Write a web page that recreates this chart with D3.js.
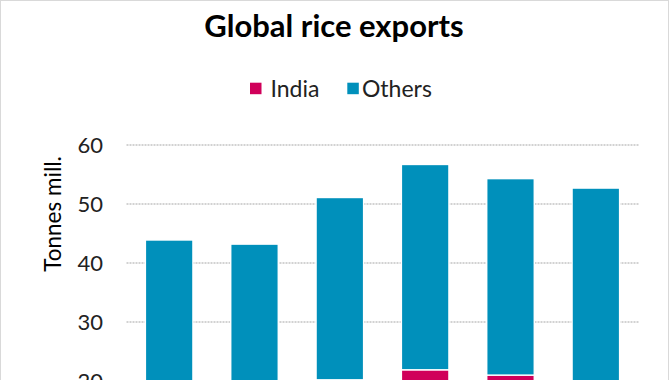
<!DOCTYPE html>
<html>
<head>
<meta charset="utf-8">
<script src="https://cdn.jsdelivr.net/npm/d3@7"></script>
<style>
  html, body { margin: 0; padding: 0; background: #fff; overflow: hidden; }
  svg { display: block; font-family: Lato, "Open Sans", sans-serif; }
</style>
</head>
<body>
<svg id="chart" width="670" height="380"></svg>
<script>
// ---- data ----
const categories = ["2018", "2019", "2020", "2021", "2022", "2023"];
const india  = [11.5, 14.5, 20.2, 21.9, 21.0, 16.5];
const others = [32.4, 28.7, 30.9, 34.8, 33.3, 36.2];
const seriesNames = ["India", "Others"];
const yTicks = [0, 10, 20, 30, 40, 50, 60];
const titleText = "Global rice exports";
const yTitleText = "Tonnes mill.";

const colors = { India: "#d0005a", Others: "#0090bb" };

const svg = d3.select("#chart");

// chart border
svg.append("rect")
  .attr("x", 0.5).attr("y", 0.5)
  .attr("width", 668).attr("height", 420)
  .attr("fill", "none").attr("stroke", "#d9d9d9").attr("stroke-width", 1);

const x = d3.scaleBand()
  .domain(categories)
  .range([126.5, 638.5])
  .paddingInner(0.443)
  .paddingOuter(0.2215);

const y = d3.scaleLinear().domain([0, 60]).range([499, 145]);

// gridlines
const grid = svg.append("g");
grid.selectAll("line").data(yTicks).join("line")
  .attr("x1", 126.5).attr("x2", 638.5)
  .attr("y1", d => y(d)).attr("y2", d => y(d))
  .attr("stroke", "#c4c4c4").attr("stroke-width", 1.5)
  .attr("stroke-dasharray", "2,1");

// y axis labels via d3 axis
const yAxis = d3.axisLeft(y).tickValues(yTicks).tickSize(0).tickPadding(0);
const yg = svg.append("g").attr("transform", "translate(103,0)").call(yAxis);
yg.select(".domain").remove();
yg.selectAll("text")
  .attr("font-family", "Lato, sans-serif")
  .attr("font-size", 22)
  .attr("fill", "#222")
  .attr("dy", "0.32em");

// stacked bars
const rows = categories.map((c, i) => ({ cat: c, India: india[i], Others: others[i] }));
const stack = d3.stack().keys(seriesNames)(rows);

svg.append("g").selectAll("g").data(stack).join("g")
  .attr("fill", d => colors[d.key])
  .selectAll("rect").data(d => d).join("rect")
  .attr("x", d => x(d.data.cat))
  .attr("width", x.bandwidth())
  .attr("y", d => y(d[1]))
  .attr("height", d => y(d[0]) - y(d[1]))
  .attr("stroke", "#ffffff")
  .attr("stroke-width", 1.4);

// title
svg.append("text")
  .attr("x", 334).attr("y", 36.5)
  .attr("text-anchor", "middle")
  .attr("font-family", "Lato, sans-serif")
  .attr("font-weight", "bold")
  .attr("font-size", 31)
  .attr("fill", "#000")
  .text(titleText);

// y title
svg.append("text")
  .attr("transform", "translate(61,214) rotate(-90)")
  .attr("text-anchor", "middle")
  .attr("font-family", "Lato, sans-serif")
  .attr("font-size", 22.5)
  .attr("fill", "#000")
  .text(yTitleText);

// legend
const legendPos = [{ sx: 250, tx: 270.5 }, { sx: 347.3, tx: 362 }];
const lg = svg.append("g");
seriesNames.forEach((name, i) => {
  lg.append("rect")
    .attr("x", legendPos[i].sx).attr("y", 82.7)
    .attr("width", 11.5).attr("height", 11.5)
    .attr("fill", colors[name]);
  lg.append("text")
    .attr("x", legendPos[i].tx).attr("y", 96.7)
    .attr("font-family", "Lato, sans-serif")
    .attr("font-size", 23)
    .attr("fill", "#222")
    .text(name);
});
</script>
</body>
</html>
